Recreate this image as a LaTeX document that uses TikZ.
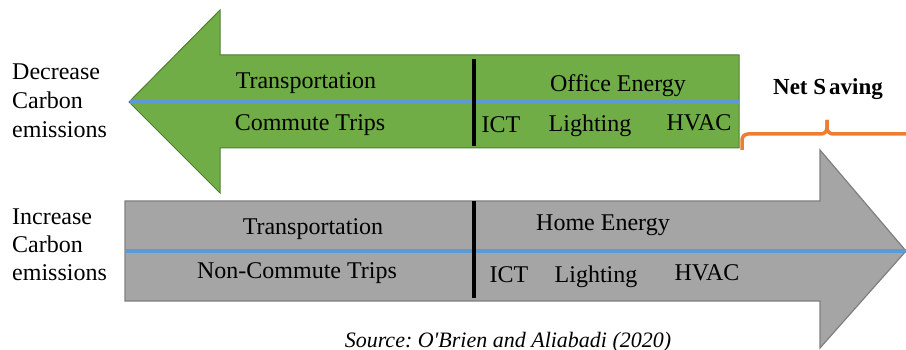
\documentclass[tikz,border=0pt]{standalone}
\usepackage{fontspec}
\setmainfont{Liberation Serif}
\usepackage{tikz}
\definecolor{leafgreen}{HTML}{70AD47}
\definecolor{leafedge}{HTML}{507E32}
\definecolor{ashgray}{HTML}{A5A5A5}
\definecolor{ashedge}{HTML}{7F7F7F}
\definecolor{midblue}{HTML}{5B9BD5}
\definecolor{braceorange}{HTML}{ED7D31}
\frenchspacing

\begin{document}
\begin{tikzpicture}[x=1pt, y=-1pt,
  txt/.style = {inner sep=0pt, anchor=base, font=\fontsize{24}{28}\selectfont},
  side/.style = {txt, anchor=base west},
  split/.style = {line width=4pt, black},
  mid/.style = {line width=4pt, midblue},
  brace/.style = {line width=3.5pt, braceorange, rounded corners=6pt}]
\useasboundingbox (0,0) rectangle (906,350);

% decrease arrow
\draw[fill=leafgreen, draw=leafedge, line width=1pt]
  (129,102) -- (220,10) -- (220,55) -- (739,55) -- (739,148)
  -- (220,148) -- (220,193) -- cycle;
\draw[mid] (130,102.5) -- (739,102.5);
\draw[split] (474,59) -- (474,146);

% increase arrow
\draw[fill=ashgray, draw=ashedge, line width=1.2pt]
  (125,201) -- (820,201) -- (820,150) -- (906,251) -- (820,348)
  -- (820,301) -- (125,301) -- cycle;
\draw[mid] (125,251) -- (906,251);
\draw[split] (474,201) -- (474,298);

% net saving brace
\draw[brace] (742,150) |- (827,134) -- (827,120);
\draw[brace] (827,120) -- (827,134) -| (915,150);

\node[side] (dec1) at (12,80) {Decrease};
\node[side] (dec2) at (12,109) {Carbon};
\node[side] (dec3) at (12,138) {emissions};
\node[side] (inc1) at (12,225) {Increase};
\node[side] (inc2) at (12,252.5) {Carbon};
\node[side] (inc3) at (12,280) {emissions};

\node[txt] (gtrans) at (306,89) {Transportation};
\node[txt] (gtrips) at (310,131) {Commute Trips};
\node[txt] (office) at (618,92) {Office Energy};
\node[txt] (gict) at (501,133) {ICT};
\node[txt] (glight) at (590,132) {Lighting};
\node[txt] (ghvac) at (699,131) {HVAC};

\node[txt] (atrans) at (313,235) {Transportation};
\node[txt] (atrips) at (297,278) {Non-Commute Trips};
\node[txt] (home) at (603,231) {Home Energy};
\node[txt] (aict) at (509,283) {ICT};
\node[txt] (alight) at (596,282) {Lighting};
\node[txt] (ahvac) at (707,280) {HVAC};

\node[txt, font=\fontsize{23}{27}\selectfont\bfseries] (net) at (828,95) {Net S\kern3pt aving};
\node[txt, font=\fontsize{22}{26}\selectfont\itshape] (src) at (508,347) {Source: O\textquotesingle Brien and Aliabadi (2020)};
\end{tikzpicture}
\end{document}
